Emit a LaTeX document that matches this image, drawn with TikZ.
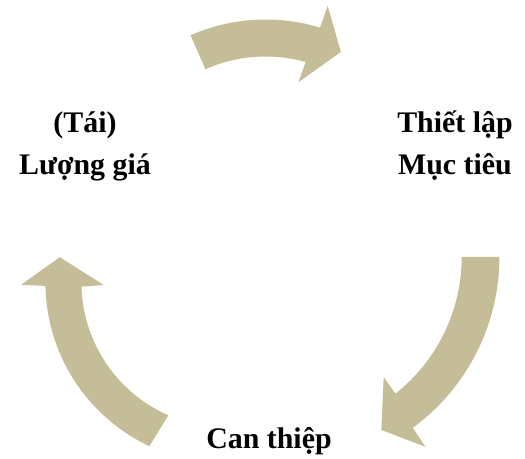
\documentclass[tikz,border=0pt]{standalone}
\usepackage{fontspec}
\setmainfont{Liberation Serif}
\usetikzlibrary{calc}
\definecolor{tan}{HTML}{C4BD97}

\begin{document}
\begin{tikzpicture}[x=1bp, y=1bp,
		stagetext/.style={font=\bfseries\fontsize{30}{43}\selectfont, align=center, inner sep=0pt, anchor=base},
		arrowband/.style={fill=tan}]
		\useasboundingbox (0,0) rectangle (525,459);
		\node[stagetext] (goal) at (455,284) {Thiết lập\\Mục tiêu};
		\node[stagetext] (act) at (269,10) {Can thiệp};
		\node[stagetext] (review) at (85,284) {(Tái)\\Lượng giá};
		\coordinate (ctop) at (265.6,253.5);
		\coordinate (cright) at (287.4,202.1);
		\coordinate (cleft) at (226.4,176.6);
		\fill[arrowband] ($(ctop)+(113.8:186)$) arc[start angle=113.8, end angle=73.0, radius=186] -- ($(ctop)+(72.7:209)$) -- ($(ctop)+(63.9:171)$) -- ($(ctop)+(75.1:127.5)$) -- ($(ctop)+(74.4:149)$) arc[start angle=74.4, end angle=113.8, radius=149] -- cycle;
		\fill[arrowband] ($(cright)+(0:212)$) arc[start angle=0, end angle=-53.7, radius=212] -- ($(cright)+(-54:234.8)$) -- ($(cright)+(-61.5:196.9)$) -- ($(cright)+(-51.3:154)$) -- ($(cright)+(-51.7:174.3)$) arc[start angle=-51.7, end angle=0, radius=174.3] -- cycle;
		\fill[arrowband] ($(cleft)+(244.8:181)$) arc[start angle=244.8, end angle=181.1, radius=181] -- ($(cleft)+(180.7:205.4)$) -- ($(cleft)+(171.4:168.6)$) -- ($(cleft)+(181.2:122.7)$) -- ($(cleft)+(181.7:145)$) arc[start angle=181.7, end angle=246.4, radius=145] -- cycle;
\end{tikzpicture}
\end{document}
